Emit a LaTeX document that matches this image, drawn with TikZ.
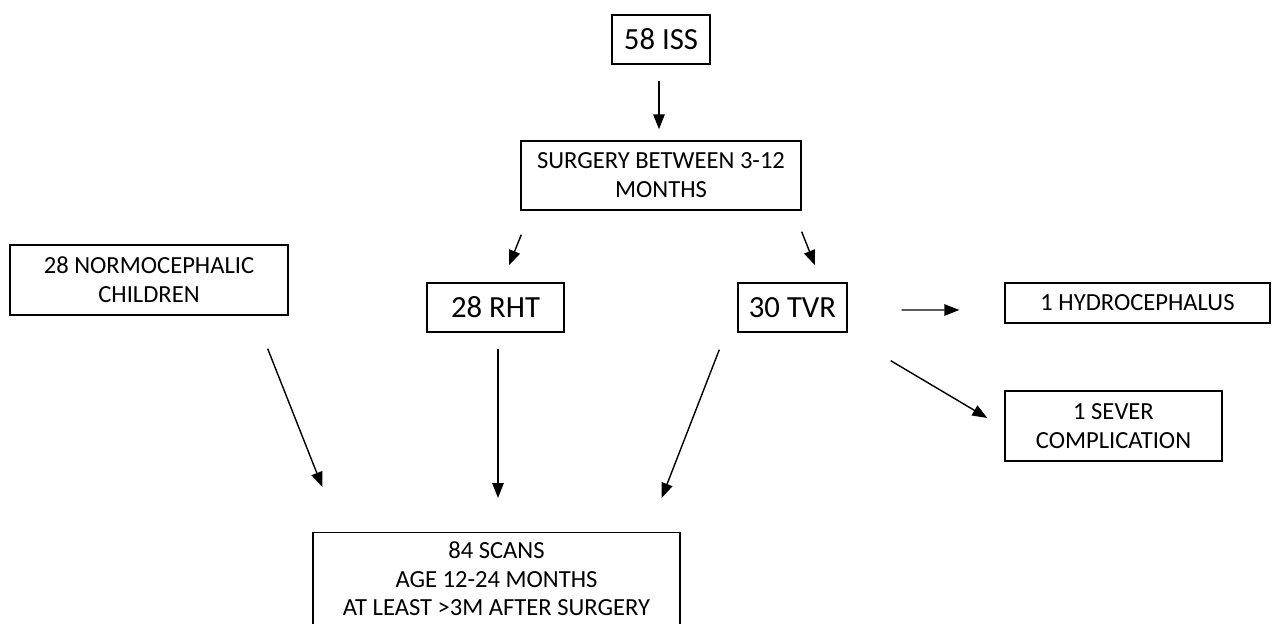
\documentclass[tikz,border=0pt]{standalone}
\usepackage{fontspec}
\setmainfont{Carlito}
\usetikzlibrary{arrows.meta}

\tikzset{
  box/.style={draw, line width=0.8pt, inner sep=2pt, align=center,
    font=\fontsize{14}{16.4}\selectfont},
  bigbox/.style={box, font=\fontsize{17.5}{20}\selectfont},
  arr/.style={line width=0.8pt, -{Triangle[length=8.5pt,width=6.5pt]}}
}

\begin{document}
\begin{tikzpicture}[x=0.02cm,y=-0.02cm]
  \clip (0,0) rectangle (1272,624);
  \node[bigbox, minimum width=1.96cm, minimum height=0.98cm] (iss) at (661,39.5) {58 ISS};
  \node[box, minimum width=5.6cm, minimum height=1.38cm] (surg) at (661,175.5) {SURGERY BETWEEN 3-12\\MONTHS};
  \node[box, minimum width=5.56cm, minimum height=1.4cm] (normo) at (149,280) {28 NORMOCEPHALIC\\CHILDREN};
  \node[bigbox, minimum width=2.74cm, minimum height=0.98cm] (rht) at (495.5,307.5) {28 RHT};
  \node[bigbox, minimum width=2.18cm, minimum height=0.98cm] (tvr) at (792.5,307.5) {30 TVR};
  \node[box, minimum width=5.3cm, minimum height=0.8cm] (hydro) at (1137.5,303) {1 HYDROCEPHALUS};
  \node[box, minimum width=4.34cm, minimum height=1.4cm] (sever) at (1113.5,426) {1 SEVER\\COMPLICATION};
  \node[box, anchor=north, minimum width=7.34cm, inner ysep=5pt, text depth=1.5cm] (scans) at (496.5,532)
    {84 SCANS\\AGE 12-24 MONTHS\\AT LEAST >3M AFTER SURGERY};

  \draw[arr] ([shift={(-2,16)}]iss.south) -- ([shift={(-2,-11)}]surg.north);
  \draw[arr] ([shift={(1,24)}]surg.south west) -- ([shift={(13.5,-17)}]rht.north);
  \draw[arr] ([shift={(0,21)}]surg.south east) -- ([shift={(22.5,-17)}]tvr.north);
  \draw[arr] ([shift={(54,2.5)}]tvr.east) -- ([shift={(-45,7)}]hydro.west);
  \draw[arr] ([shift={(43,28)}]tvr.south east) -- ([shift={(-17,-8)}]sever.west);
  \draw[arr] ([shift={(-21,33)}]normo.south east) -- ([shift={(10,-45)}]scans.north west);
  \draw[arr] ([shift={(2.5,16)}]rht.south) -- ([shift={(1.5,-34)}]scans.north);
  \draw[arr] ([shift={(-18,17)}]tvr.south west) -- ([shift={(-19,-34)}]scans.north east);
\end{tikzpicture}
\end{document}
